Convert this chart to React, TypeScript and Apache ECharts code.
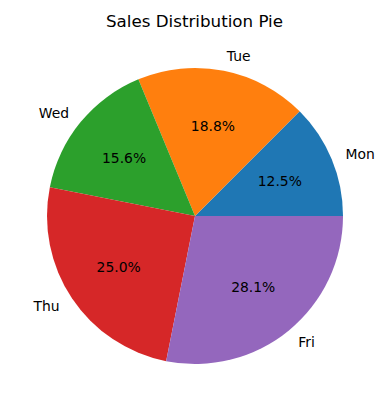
import React, { useEffect, useRef } from "react";
import * as echarts from "echarts";

const categories = ["Mon", "Tue", "Wed", "Thu", "Fri"];
const values = [4, 6, 5, 8, 9];
const colors = ["#1f77b4", "#ff7f0e", "#2ca02c", "#d62728", "#9467bd"];
const titleText = "Sales Distribution Pie";

const FONT = "DejaVu Sans";

export default function App() {
  const ref = useRef<HTMLDivElement>(null);
  useEffect(() => {
    if (!ref.current) return;
    const chart = echarts.init(ref.current, null, { renderer: "svg" });
    const total = values.reduce((a, b) => a + b, 0);
    const cx = 195;
    const cy = 216;
    const R = 148;
    const base = categories.map((c, i) => ({ name: c, value: values[i] }));
    chart.setOption({
      animation: false,
      title: {
        text: titleText,
        left: "center",
        top: 7,
        textStyle: { fontFamily: FONT, fontSize: 16.7, fontWeight: "normal", color: "#000" },
      },
      series: [
        {
          type: "pie",
          center: [cx, cy],
          radius: [0, R],
          startAngle: 0,
          clockwise: false,
          silent: true,
          avoidLabelOverlap: false,
          itemStyle: { borderWidth: 0 },
          label: {
            show: true,
            position: "outside",
            alignTo: "none",
            distanceToLabelLine: 0,
            fontFamily: FONT,
            fontSize: 13.9,
            color: "#000",
            formatter: "{b}",
          },
          labelLine: { show: false, length: R * 0.1, length2: 0 },
          data: base.map((d, i) => ({ ...d, itemStyle: { color: colors[i] } })),
        },
        {
          type: "pie",
          center: [cx, cy],
          radius: [0, R * 1.2],
          startAngle: 0,
          clockwise: false,
          silent: true,
          itemStyle: { color: "transparent", borderWidth: 0 },
          labelLine: { show: false },
          label: {
            show: true,
            position: "inside",
            fontFamily: FONT,
            fontSize: 13.9,
            color: "#000",
            formatter: (p: any) => ((p.value / total) * 100).toFixed(1) + "%",
          },
          data: base,
        },
      ],
    });
    return () => chart.dispose();
  }, []);
  return (
    <div
      ref={ref}
      style={{ position: "fixed", left: 0, top: 0, width: 389, height: 411, background: "#fff" }}
    />
  );
}
